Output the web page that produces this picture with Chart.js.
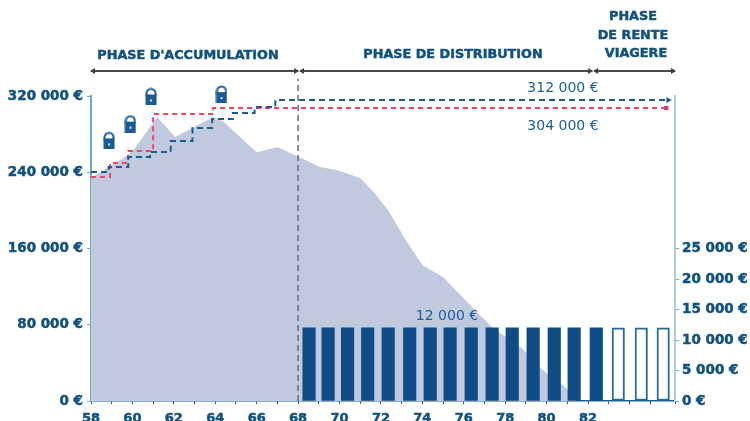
<!DOCTYPE html>
<html>
<head>
<meta charset="utf-8">
<script src="https://cdn.jsdelivr.net/npm/chart.js@4"></script>
<style>
  html, body { margin: 0; padding: 0; background: #fff; overflow: hidden; }
  canvas { display: block; }
</style>
</head>
<body>
<canvas id="myChart" width="750" height="421"></canvas>
<script>
// capital (zone grise)
const capitalAges = [58, 59.8, 60.1, 61.2, 62.06, 63.9, 64.4, 66, 67, 67.85, 69.06, 69.9, 71, 71.7, 72.35, 73.2, 74, 75, 76.2, 77.4, 78.8, 79.8, 80.9, 81.4];
const capitalValues = [234000, 258000, 265000, 298000, 277000, 298000, 293000, 261000, 266500, 258000, 245500, 242000, 234000, 218000, 200000, 169000, 142700, 130000, 103000, 76500, 55600, 32500, 14700, 0];

// paliers garantis
const blueAges = [58, 58.85, 59.8, 60.85, 61.85, 62.9, 63.85, 64.85, 65.9, 66.9, 85.87];
const blueValues = [240200, 245500, 256000, 261200, 272700, 286400, 295800, 302100, 308400, 315700, 315700];
const redAges = [58, 58.92, 59.79, 61, 63.9, 85.78];
const redValues = [235000, 249700, 262300, 301000, 307400, 307400];

// rentes annuelles
const renteAges = [68.53, 69.45, 70.39, 71.36, 72.35, 73.39, 74.38, 75.34, 76.36, 77.37, 78.34, 79.35, 80.37, 81.33, 82.4, 83.46, 84.57, 85.63];
const renteValues = [12000, 12000, 12000, 12000, 12000, 12000, 12000, 12000, 12000, 12000, 12000, 12000, 12000, 12000, 12000, 12000, 12000, 12000];
const viagereFrom = 83;

// cadenas
const lockAges = [58.87, 59.9, 60.9, 64.3];
const lockValues = [273500, 291000, 319500, 322000];

// separation des phases
const phaseLineAges = [68, 68];
const phaseLineValues = [0, 338000];

const leftTicks = [0, 80000, 160000, 240000, 320000];
const rightTicks = [0, 5000, 10000, 15000, 20000, 25000];

const BLUE = '#0f4c86';
const TEXT_BLUE = '#12527f';

function toPoints(xs, ys) {
  return xs.map((x, i) => ({ x: x, y: ys[i] }));
}

function formatEuro(v) {
  return String(v).replace(/\B(?=(\d{3})+$)/g, ' ') + ' €';
}

// icone de cadenas
function makeLock() {
  const c = document.createElement('canvas');
  c.width = 12;
  c.height = 18;
  const g = c.getContext('2d');
  g.strokeStyle = '#1a5a92';
  g.lineWidth = 2;
  g.beginPath();
  g.arc(6, 6, 4.5, Math.PI, 0);
  g.lineTo(10.5, 9);
  g.moveTo(1.5, 6);
  g.lineTo(1.5, 9);
  g.stroke();
  g.fillStyle = '#1a5a92';
  g.fillRect(0.5, 7, 11, 11);
  g.fillStyle = '#dfe6f0';
  g.fillRect(5, 12, 2, 2);
  return c;
}

// titres des phases, fleches et montants
const annotations = {
  id: 'annotations',
  afterDraw(chart) {
    const g = chart.ctx;
    const x = chart.scales.x;
    const top = chart.chartArea.top;
    const y = top - 25;
    const a = x.left, b = x.getPixelForValue(68), c = x.getPixelForValue(82.2), d = x.right;

    g.save();
    g.strokeStyle = '#4a4a4a';
    g.fillStyle = '#3f3f3f';
    g.lineWidth = 2;
    [[a, b], [b + 2, c], [c + 2, d]].forEach(function(seg) {
      g.beginPath();
      g.moveTo(seg[0], y);
      g.lineTo(seg[1], y);
      g.stroke();
      g.beginPath();
      g.moveTo(seg[0] - 1, y);
      g.lineTo(seg[0] + 4, y - 3);
      g.lineTo(seg[0] + 4, y + 3);
      g.fill();
      g.beginPath();
      g.moveTo(seg[1] + 1, y);
      g.lineTo(seg[1] - 4, y - 3);
      g.lineTo(seg[1] - 4, y + 3);
      g.fill();
    });

    g.fillStyle = TEXT_BLUE;
    g.strokeStyle = TEXT_BLUE;
    g.lineWidth = 0.5;
    g.textAlign = 'center';
    g.textBaseline = 'middle';
    g.font = 'bold 12.8px "DejaVu Sans"';
    [["PHASE D'ACCUMULATION", 188, 56], ['PHASE DE DISTRIBUTION', 453, 55], ['PHASE', 633, 17], ['DE RENTE', 633, 36], ['VIAGERE', 636, 54]].forEach(function(t) {
      g.fillText(t[0], t[1], t[2]);
      g.strokeText(t[0], t[1], t[2]);
    });

    g.font = '14px "DejaVu Sans"';
    g.fillStyle = '#1a5f94';
    g.fillText('312 000 €', 563, 88);
    g.fillText('304 000 €', 563, 126);
    g.fillText('12 000 €', 447, 316);
    g.restore();
  }
};

const lock = makeLock();

new Chart(document.getElementById('myChart').getContext('2d'), {
  type: 'line',
  data: {
    datasets: [
      {
        label: 'capital',
        data: toPoints(capitalAges, capitalValues),
        yAxisID: 'y',
        borderWidth: 0,
        backgroundColor: '#c0c9de',
        fill: 'origin',
        pointRadius: 0,
        order: 10
      },
      {
        type: 'bar',
        label: 'rente',
        data: toPoints(renteAges, renteValues),
        yAxisID: 'y2',
        barThickness: 12.5,
        backgroundColor: renteAges.map(a => a < viagereFrom ? BLUE : '#ffffff'),
        borderColor: renteAges.map(a => a < viagereFrom ? BLUE : '#2a6a96'),
        borderWidth: renteAges.map(a => a < viagereFrom ? 0 : 2),
        borderSkipped: false,
        order: 5
      },
      {
        label: 'separation',
        data: toPoints(phaseLineAges, phaseLineValues),
        yAxisID: 'y',
        borderColor: '#6b6b72',
        borderWidth: 1.5,
        borderDash: [6, 4],
        pointRadius: 0,
        clip: false,
        order: 3
      },
      {
        label: 'rouge',
        data: toPoints(redAges, redValues),
        yAxisID: 'y',
        stepped: 'before',
        borderColor: '#ee4468',
        borderWidth: 2,
        borderDash: [5, 4],
        pointStyle: 'rect',
        pointRadius: ctx => ctx.dataIndex === redAges.length - 1 ? 3 : 0,
        pointBackgroundColor: '#d83a66',
        pointBorderWidth: 0,
        order: 2
      },
      {
        label: 'bleu',
        data: toPoints(blueAges, blueValues),
        yAxisID: 'y',
        stepped: 'before',
        borderColor: '#1f5a8c',
        borderWidth: 2,
        borderDash: [6, 4],
        pointStyle: 'triangle',
        rotation: 90,
        pointRadius: ctx => ctx.dataIndex === blueAges.length - 1 ? 3.5 : 0,
        pointBackgroundColor: '#1f5a8c',
        pointBorderWidth: 0,
        order: 1
      },
      {
        label: 'cadenas',
        data: toPoints(lockAges, lockValues),
        yAxisID: 'y',
        showLine: false,
        pointStyle: lock,
        clip: false,
        order: 0
      }
    ]
  },
  options: {
    responsive: false,
    animation: false,
    layout: { padding: { top: 96 } },
    plugins: { legend: { display: false }, tooltip: { enabled: false } },
    elements: { line: { tension: 0 } },
    scales: {
      x: {
        type: 'linear',
        min: 58,
        max: 86.2,
        offset: false,
        afterFit(s) { s.height = 20; },
        border: { color: '#1f5f8f', width: 1.5 },
        grid: { offset: false, drawOnChartArea: false, tickLength: 3, tickColor: '#1f5f8f' },
        ticks: {
          stepSize: 1,
          autoSkip: false,
          maxRotation: 0,
          padding: 7,
          color: TEXT_BLUE,
          textStrokeColor: TEXT_BLUE,
          textStrokeWidth: 0.5,
          font: { family: '"DejaVu Sans"', weight: 'bold', size: 13 },
          callback: v => (v % 2 === 0 && v <= 82) ? String(v) : ''
        }
      },
      y: {
        position: 'left',
        min: 0,
        max: 320000,
        afterFit(s) { s.width = 91; },
        afterBuildTicks(s) { s.ticks = leftTicks.map(v => ({ value: v })); },
        border: { color: '#6ea8c8', width: 2 },
        grid: { drawOnChartArea: false, tickLength: 4, tickColor: '#6ea8c8' },
        ticks: {
          padding: 4,
          color: TEXT_BLUE,
          textStrokeColor: TEXT_BLUE,
          textStrokeWidth: 0.5,
          font: { family: '"DejaVu Sans"', weight: 'bold', size: 13.5 },
          callback: v => formatEuro(v)
        }
      },
      y2: {
        position: 'right',
        min: 0,
        max: 50000,
        afterFit(s) { s.width = 75; },
        afterBuildTicks(s) { s.ticks = rightTicks.map(v => ({ value: v })); },
        border: { color: '#a9cfe0', width: 2 },
        grid: { drawOnChartArea: false, tickLength: 4, tickColor: '#6ea8c8' },
        ticks: {
          padding: 3,
          color: TEXT_BLUE,
          textStrokeColor: TEXT_BLUE,
          textStrokeWidth: 0.5,
          font: { family: '"DejaVu Sans"', weight: 'bold', size: 13.5 },
          callback: v => formatEuro(v)
        }
      }
    }
  },
  plugins: [annotations]
});
</script>
</body>
</html>
